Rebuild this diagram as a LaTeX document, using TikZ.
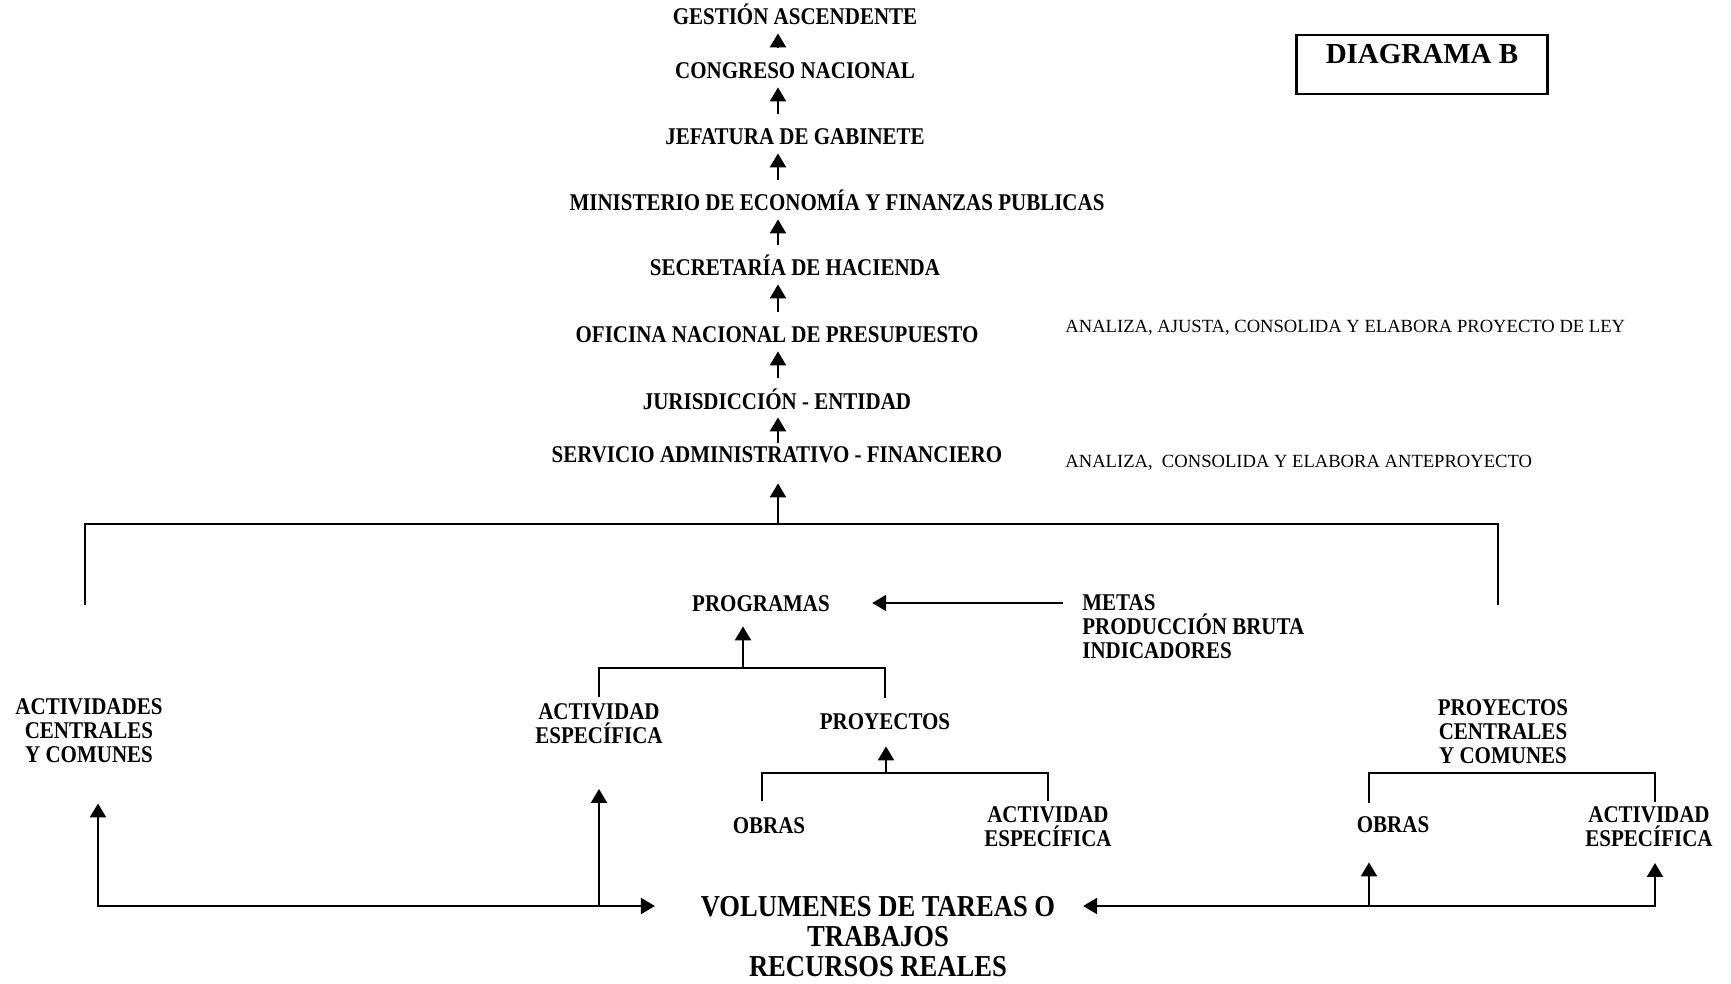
\documentclass[tikz,border=0pt]{standalone}
\usepackage{fontspec}
\setmainfont{Liberation Serif}
\newfontfamily\estrecha{Liberation Serif}[FakeStretch=0.875]
\usetikzlibrary{arrows.meta}
\tikzset{
nivel/.style={ % one-line titles
font=\estrecha\bfseries\fontsize{12}{12}\selectfont,
inner sep=0pt, text height=8pt, text depth=0pt},
bloque/.style={ % titles on several lines
font=\estrecha\bfseries\fontsize{12}{12}\selectfont,
inner sep=0pt, align=center},
nota/.style={font=\fontsize{9.3}{11}\selectfont, inner sep=0pt, anchor=west},
linea/.style={draw, line width=1.1pt},
flecha/.style={linea, -{Triangle[width=8pt,length=7pt]}},
dobleflecha/.style={linea, {Triangle[width=8pt,length=7pt]}-{Triangle[width=8pt,length=7pt]}}}

\begin{document}
\begin{tikzpicture}[x=0.5pt, y=-0.5pt]
\useasboundingbox (0,0) rectangle (1731,984);

% upward chain
\node[nivel] (gestion) at (795,17) {GESTIÓN ASCENDENTE};
\node[nivel] (congreso) at (795,71) {CONGRESO NACIONAL};
\node[nivel] (jefatura) at (795,137) {JEFATURA DE GABINETE};
\node[nivel] (ministerio) at (837,203) {MINISTERIO DE ECONOMÍA Y FINANZAS PUBLICAS};
\node[nivel] (secretaria) at (795,268) {SECRETARÍA DE HACIENDA};
\node[nivel] (oficina) at (777,335) {OFICINA NACIONAL DE PRESUPUESTO};
\node[nivel] (jurisdiccion) at (777,401) {JURISDICCIÓN - ENTIDAD};
\node[nivel] (servicio) at (777,455) {SERVICIO ADMINISTRATIVO - FINANCIERO};
\coordinate (eje) at (778,524);

\foreach \a/\b in {congreso/gestion, jefatura/congreso, ministerio/jefatura,
  secretaria/ministerio, oficina/secretaria, jurisdiccion/oficina}
  \draw[flecha, shorten <=7.5pt, shorten >=4pt] (eje |- \a.north) -- (eje |- \b.south);
\draw[flecha, shorten <=2pt, shorten >=4pt] (eje |- servicio.north) -- (eje |- jurisdiccion.south);

\node[nota] (nota1) at (1065,328) {ANALIZA, AJUSTA, CONSOLIDA Y ELABORA PROYECTO DE LEY};
\node[nota] (nota2) at (1065,463) {ANALIZA,\ \ CONSOLIDA Y ELABORA ANTEPROYECTO};

\node[draw, line width=1.1pt, font=\bfseries\fontsize{14.5}{16}\selectfont, inner sep=0pt,
  text height=14.5pt, text depth=15pt, minimum width=125.5pt] (diagrama) at (1422,64.5) {DIAGRAMA B};

% lower part
\node[nivel] (programas) at (761,603) {PROGRAMAS};
\node[bloque, align=left, anchor=west] (metas) at (1082,627) {METAS\\PRODUCCIÓN BRUTA\\INDICADORES};
\node[bloque] (actcen) at (89,731) {ACTIVIDADES\\CENTRALES\\Y COMUNES};
\node[bloque] (actesp) at (599,723.5) {ACTIVIDAD\\ESPECÍFICA};
\node[nivel] (proyectos) at (885,721) {PROYECTOS};
\node[nivel] (obras) at (769,825) {OBRAS};
\node[bloque] (actproy) at (1048,827) {ACTIVIDAD\\ESPECÍFICA};
\node[bloque] (proycen) at (1503,732) {PROYECTOS\\CENTRALES\\Y COMUNES};
\node[nivel] (obrascen) at (1393,824) {OBRAS};
\node[bloque] (actproycen) at (1649,827) {ACTIVIDAD\\ESPECÍFICA};
\node[bloque, font=\estrecha\bfseries\fontsize{15.2}{15}\selectfont] (volumenes) at (878,937)
  {VOLUMENES DE TAREAS O\\TRABAJOS\\RECURSOS REALES};

\coordinate (pieizq) at (85,605);
\coordinate (pieder) at (1498,605);
\coordinate (progjoin) at (743,668);
\coordinate (proyjoin) at (886,773);
\coordinate (obrapie) at (1369,803);
\coordinate (izq) at (98,906);
\coordinate (actcol) at (599,906);
\coordinate (obracol) at (1369,906);
\coordinate (der) at (1655,906);

\draw[linea] (pieizq) |- (eje) -| (pieder);
\draw[flecha, shorten >=10pt] (eje) -- (eje |- servicio.south);
\draw[flecha, shorten <=9.5pt, shorten >=21pt] (metas.west |- programas) -- (programas.east);

\draw[linea] ([yshift=3pt]actesp.north) |- (progjoin) -| ([yshift=7.5pt]proyectos.north);
\draw[flecha, shorten >=7.5pt] (progjoin) -- (progjoin |- programas.south);
\draw[linea] ([xshift=-3.5pt, yshift=8pt]obras.north) |- (proyjoin) -| ([yshift=3pt]actproy.north);
\draw[flecha, shorten >=8.5pt] (proyjoin) -- (proyjoin |- proyectos.south);
\draw[linea, shorten >=2.25pt] (obrapie) -- ++(0,-30) -| (der |- actproycen.north);

\draw[dobleflecha, shorten <=20pt, shorten >=22.75pt] (izq |- actcen.south) -- (izq) -- (izq -| volumenes.west);
\draw[flecha, shorten >=22.5pt] (actcol) -- (actesp.south);
\draw[dobleflecha, shorten <=7.75pt, shorten >=13.75pt] (der |- actproycen.south) -- (der) -- (der -| volumenes.east);
\draw[flecha, shorten >=15pt] (obracol) -- (obracol |- obrascen.south);
\end{tikzpicture}
\end{document}
